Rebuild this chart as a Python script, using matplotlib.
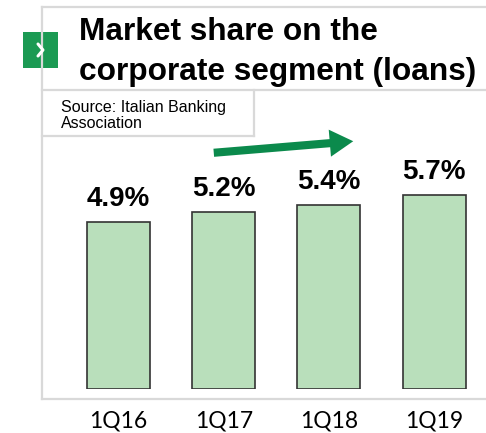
import matplotlib.pyplot as plt
from matplotlib.lines import Line2D
from matplotlib.patches import Rectangle, FancyArrowPatch

# -----------------------------
# Data
# -----------------------------
quarters = ["1Q16", "1Q17", "1Q18", "1Q19"]
market_share = [4.9, 5.2, 5.4, 5.7]
value_labels = ["4.9%", "5.2%", "5.4%", "5.7%"]

title_lines = ["Market share on the", "corporate segment (loans)"]
source = "Source: Italian Banking\nAssociation"

W, H = 486, 433
fig = plt.figure(figsize=(W / 100, H / 100), dpi=100)


def fx(px):
    return px / W


def fy(py):
    return 1 - py / H


# frame lines (light gray)
frame_col = "#d9d9d9"
segments = [
    ((42, 7), (486, 7)),
    ((42, 7), (42, 399)),
    ((42, 399), (486, 399)),
    ((42, 90), (486, 90)),
    ((254, 90), (254, 136)),
    ((42, 136), (254, 136)),
]
for (x0, y0), (x1, y1) in segments:
    fig.add_artist(Line2D([fx(x0), fx(x1)], [fy(y0), fy(y1)],
                          color=frame_col, lw=1.6, transform=fig.transFigure))

# green icon with chevron
fig.add_artist(Rectangle((fx(23), fy(68)), fx(58) - fx(23), fy(32) - fy(68),
                         facecolor="#1b9a53", edgecolor="none",
                         transform=fig.transFigure))
fig.add_artist(Line2D([fx(38), fx(43), fx(38)], [fy(44), fy(50), fy(56)],
                      color="white", lw=2.2, solid_capstyle="round",
                      transform=fig.transFigure))

# title (one text per line) and source
for line, base in zip(title_lines, [40, 80]):
    fig.text(fx(79), fy(base), line, fontsize=22.8, fontweight="bold",
             family="Liberation Sans", ha="left", va="baseline")
fig.text(fx(61), fy(128), source, fontsize=11.5, family="Liberation Sans",
         ha="left", va="baseline", linespacing=1.05)

# -----------------------------
# Bars
# -----------------------------
ax = fig.add_axes([fx(65.8), fy(389), fx(421), 340 / H])
x = list(range(len(quarters)))
ax.bar(x, market_share, width=0.6, color="#b9dfbb", edgecolor="#333333",
       linewidth=1.2)
ax.set_xlim(-0.5, 3.5)
ax.set_ylim(0, 10)
ax.axis("off")

for xi, v, lab in zip(x, market_share, value_labels):
    ax.annotate(lab, (xi, v), xytext=(0, 11.5), textcoords="offset points",
                ha="center", va="baseline", fontsize=20, fontweight="bold",
                family="Liberation Sans")

for xi, q in zip(x, quarters):
    ax.annotate(q, (xi, 0), xytext=(0, -23), textcoords="offset points",
                ha="center", va="center", fontsize=16.5, family="Lato")

# trend arrow
fig.add_artist(FancyArrowPatch((fx(211), fy(153)), (fx(356), fy(141)),
                               transform=fig.transFigure,
                               arrowstyle="simple,head_length=1.3,head_width=1.5,tail_width=0.45",
                               mutation_scale=13, color="#0b8a4c", lw=0))

fig.savefig("out.png", dpi=100)
